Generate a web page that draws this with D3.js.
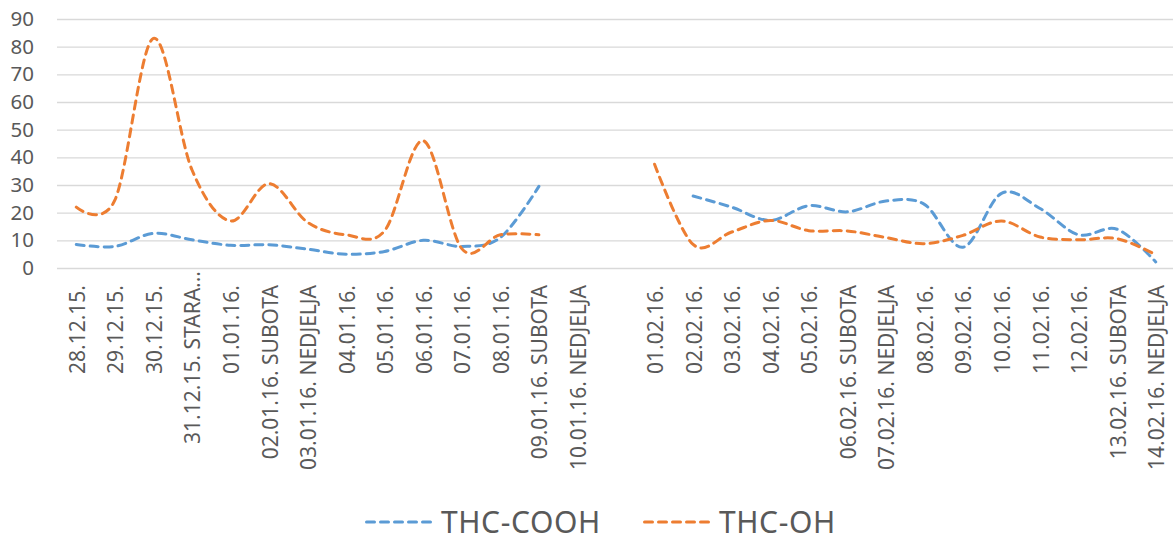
<!DOCTYPE html>
<html><head><meta charset="utf-8">
<script src="https://cdn.jsdelivr.net/npm/d3@7"></script>
<style>
html,body{margin:0;padding:0;background:#fff;}
svg{display:block;font-family:"Noto Sans","Liberation Sans",Arial,sans-serif;}
</style></head>
<body>
<svg id="chart" width="1173" height="541"></svg>
<script>
const categories = ["28.12.15.","29.12.15.","30.12.15.","31.12.15. STARA...","01.01.16.","02.01.16. SUBOTA","03.01.16. NEDJELJA","04.01.16.","05.01.16.","06.01.16.","07.01.16.","08.01.16.","09.01.16. SUBOTA","10.01.16. NEDJELJA"," ","01.02.16.","02.02.16.","03.02.16.","04.02.16.","05.02.16.","06.02.16. SUBOTA","07.02.16. NEDJELJA","08.02.16.","09.02.16.","10.02.16.","11.02.16.","12.02.16.","13.02.16. SUBOTA","14.02.16. NEDJELJA"];
const thcCOOH = [8.5,7.8,12.5,10.2,8.2,8.4,6.8,5,6,10,7.8,11,29.5,null,null,null,26,22,17.2,22.5,20.3,24.2,23,7.5,27,21.5,12,14,2.2];
const thcOH = [22,24.5,83,35.5,17,30.5,16.5,12,13.5,46,7,12,12,null,null,37.5,8.5,13,17.2,13.5,13.4,11,8.8,11.8,17,11.2,10.2,10.6,4.8];
const yTicks = [0,10,20,30,40,50,60,70,80,90];
const seriesNames = ["THC-COOH","THC-OH"];
const seriesColors = ["#5B9BD5","#ED7D31"];

const svg = d3.select("#chart");
const x = d3.scalePoint().domain(categories).range([57,1175]).padding(0.5);
const y = d3.scaleLinear().domain([0,90]).range([268,19]);

// gridlines
const yAxis = d3.axisLeft(y).tickValues(yTicks).tickSize(-(1175-57)).tickPadding(23).tickFormat(d3.format("d"));
const gy = svg.append("g").attr("transform","translate(57,0)").call(yAxis);
gy.select(".domain").remove();
gy.selectAll(".tick line").attr("stroke","#d9d9d9").attr("stroke-width",1.3);
gy.selectAll(".tick text").attr("fill","#595959").attr("font-size","20.5px").attr("font-family","Noto Sans, Liberation Sans, Arial, sans-serif");

// x axis labels
const xAxis = d3.axisBottom(x).tickSize(0).tickPadding(0);
const gx = svg.append("g").attr("transform","translate(0,268)").call(xAxis);
gx.select(".domain").remove();
gx.selectAll(".tick text")
  .attr("fill","#595959").attr("font-size","21px").attr("font-family","Noto Sans, Liberation Sans, Arial, sans-serif")
  .attr("text-anchor","end").attr("dy",null)
  .attr("transform", d => `translate(8,${d.endsWith("...")?3:17}) rotate(-90)`)
  .attr("x",0).attr("y",0);

// lines
const series = [thcCOOH, thcOH];
series.forEach((vals,i)=>{
  const line = d3.line()
    .defined(d => d.v !== null)
    .x(d => x(d.c)).y(d => y(d.v))
    .curve(d3.curveCardinal.tension(0));
  svg.append("path")
    .datum(categories.map((c,k)=>({c, v: vals[k]})))
    .attr("d", line)
    .attr("fill","none")
    .attr("stroke", seriesColors[i])
    .attr("stroke-width",3)
    .attr("stroke-linecap","round")
    .attr("stroke-dasharray","8,6");
});

// legend
const legendItems = [{x:365, name:seriesNames[0], color:seriesColors[0]},{x:643, name:seriesNames[1], color:seriesColors[1]}];
legendItems.forEach(it=>{
  svg.append("line").attr("x1",it.x+1.5).attr("x2",it.x+70).attr("y1",522).attr("y2",522)
    .attr("stroke",it.color).attr("stroke-width",3).attr("stroke-linecap","round").attr("stroke-dasharray","8,6");
  svg.append("text").attr("x",it.x+76).attr("y",533).attr("fill","#595959")
    .attr("font-size","30px").attr("letter-spacing","0.6px").text(it.name);
});
</script>
</body></html>
